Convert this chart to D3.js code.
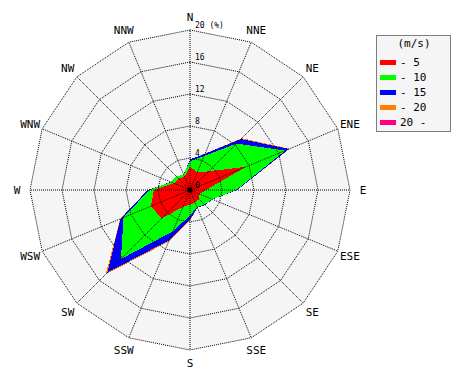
<!DOCTYPE html>
<html>
<head>
<meta charset="utf-8">
<script src="https://cdn.jsdelivr.net/npm/d3@7"></script>
<style>
  body { margin: 0; background: #fff; }
  text { font-family: "DejaVu Sans Mono", monospace; fill: #000; }
</style>
</head>
<body>
<svg width="470" height="380"></svg>
<script>
// wind directions, clockwise from north
var dirs = ["N","NNE","NE","ENE","E","ESE","SE","SSE","S","SSW","SW","WSW","W","WNW","NW","NNW"];
var classes = ["- 5", "- 10", "- 15", "- 20", "20 -"];
var colors = ["#ff0000", "#00ff00", "#0000ff", "#ff8000", "#ff0080"];

// frequency (%) of each speed class per direction
var spd5  = [2.9, 2.4, 3.3, 7.6, 2.0, 1.3, 1.6, 1.7, 1.8, 2.3, 5.0, 5.3, 4.5, 2.2, 2.0, 1.8];
var spd10 = [0.7, 2.2, 4.9, 5.3, 3.8, 1.7, 1.0, 0.6, 1.4, 3.3, 7.2, 3.7, 0.6, 0.4, 0.4, 0.3];
var spd15 = [0.2, 0.3, 0.8, 0.5, 0.1, 0.05, 0.05, 0.1, 0.5, 1.2, 2.4, 0.4, 0.2, 0, 0, 0];
var spd20 = [0, 0.05, 0.15, 0.1, 0, 0, 0, 0, 0.15, 0.2, 0.3, 0.05, 0, 0, 0, 0];
var spd20p = [0, 0, 0, 0, 0, 0, 0, 0, 0, 0, 0, 0, 0, 0, 0, 0];

var ticks = [4, 8, 12, 16, 20];

var svg = d3.select("svg"),
    cx = 190, cy = 190, R = 160;

var r = d3.scaleLinear().domain([0, 20]).range([0, R]);
var ang = d3.scaleLinear().domain([0, dirs.length]).range([0, 2 * Math.PI]);

var series = [spd5, spd10, spd15, spd20, spd20p];
var data = dirs.map(function(d, i) {
  var o = {dir: d};
  classes.forEach(function(c, k) { o[c] = series[k][i]; });
  return o;
});
var stacked = d3.stack().keys(classes)(data);

var g = svg.append("g").attr("transform", "translate(" + cx + "," + cy + ")");

var radial = d3.lineRadial()
    .angle(function(d, i) { return ang(i); })
    .curve(d3.curveLinearClosed);

// background
g.append("path")
    .attr("d", radial.radius(function() { return r(20); })(dirs))
    .attr("fill", "#f5f5f5");

// rose: outer classes first, inner ones over them
g.selectAll(".layer")
  .data(stacked.slice().reverse())
  .enter().append("path")
    .attr("class", "layer")
    .attr("d", function(s) { return radial.radius(function(d) { return r(d[1]); })(s); })
    .attr("fill", function(s) { return colors[s.index]; })
    .attr("shape-rendering", "crispEdges");

// grid rings
g.selectAll(".ring")
  .data(ticks)
  .enter().append("path")
    .attr("class", "ring")
    .attr("d", function(t) { return radial.radius(function() { return r(t); })(dirs); })
    .attr("fill", "none")
    .attr("stroke", "#000")
    .attr("stroke-dasharray", "1,1");

// spokes
g.selectAll(".spoke")
  .data(dirs)
  .enter().append("line")
    .attr("class", "spoke")
    .attr("x1", 0).attr("y1", 0)
    .attr("x2", function(d, i) { return r(20) * Math.sin(ang(i)); })
    .attr("y2", function(d, i) { return -r(20) * Math.cos(ang(i)); })
    .attr("stroke", "#000")
    .attr("stroke-dasharray", "1,1");

g.append("circle").attr("r", 2.5).attr("fill", "#000");

// direction labels
g.selectAll(".dlab")
  .data(dirs)
  .enter().append("text")
    .attr("class", "dlab")
    .attr("x", function(d, i) { return (R + 13) * Math.sin(ang(i)); })
    .attr("y", function(d, i) { return -(R + 13) * Math.cos(ang(i)); })
    .attr("dy", "0.36em")
    .attr("text-anchor", "middle")
    .style("font-size", "11px")
    .text(function(d) { return d; });

// radial tick labels
g.selectAll(".tlab")
  .data([0].concat(ticks))
  .enter().append("text")
    .attr("class", "tlab")
    .attr("x", 5)
    .attr("y", function(t) { return -r(t) - 2; })
    .style("font-size", "8px")
    .text(function(t) { return t == 20 ? "20 (%)" : t; });

// legend
var leg = svg.append("g").attr("transform", "translate(376,35)");
leg.append("rect")
    .attr("x", 0.5).attr("y", 0.5)
    .attr("width", 74).attr("height", 96)
    .attr("fill", "#f5f5f5")
    .attr("stroke", "#000")
    .attr("stroke-dasharray", "1,1");
leg.append("text")
    .attr("x", 38).attr("y", 12)
    .attr("text-anchor", "middle")
    .style("font-size", "11px")
    .text("(m/s)");
var item = leg.selectAll(".item")
  .data(classes)
  .enter().append("g")
    .attr("class", "item")
    .attr("transform", function(d, i) { return "translate(4," + (25 + i * 15) + ")"; });
item.append("rect")
    .attr("width", 16).attr("height", 5)
    .attr("fill", function(d, i) { return colors[i]; });
item.append("text")
    .attr("x", 20).attr("y", 6)
    .style("font-size", "11px")
    .text(function(d) { return d; });
</script>
</body>
</html>
